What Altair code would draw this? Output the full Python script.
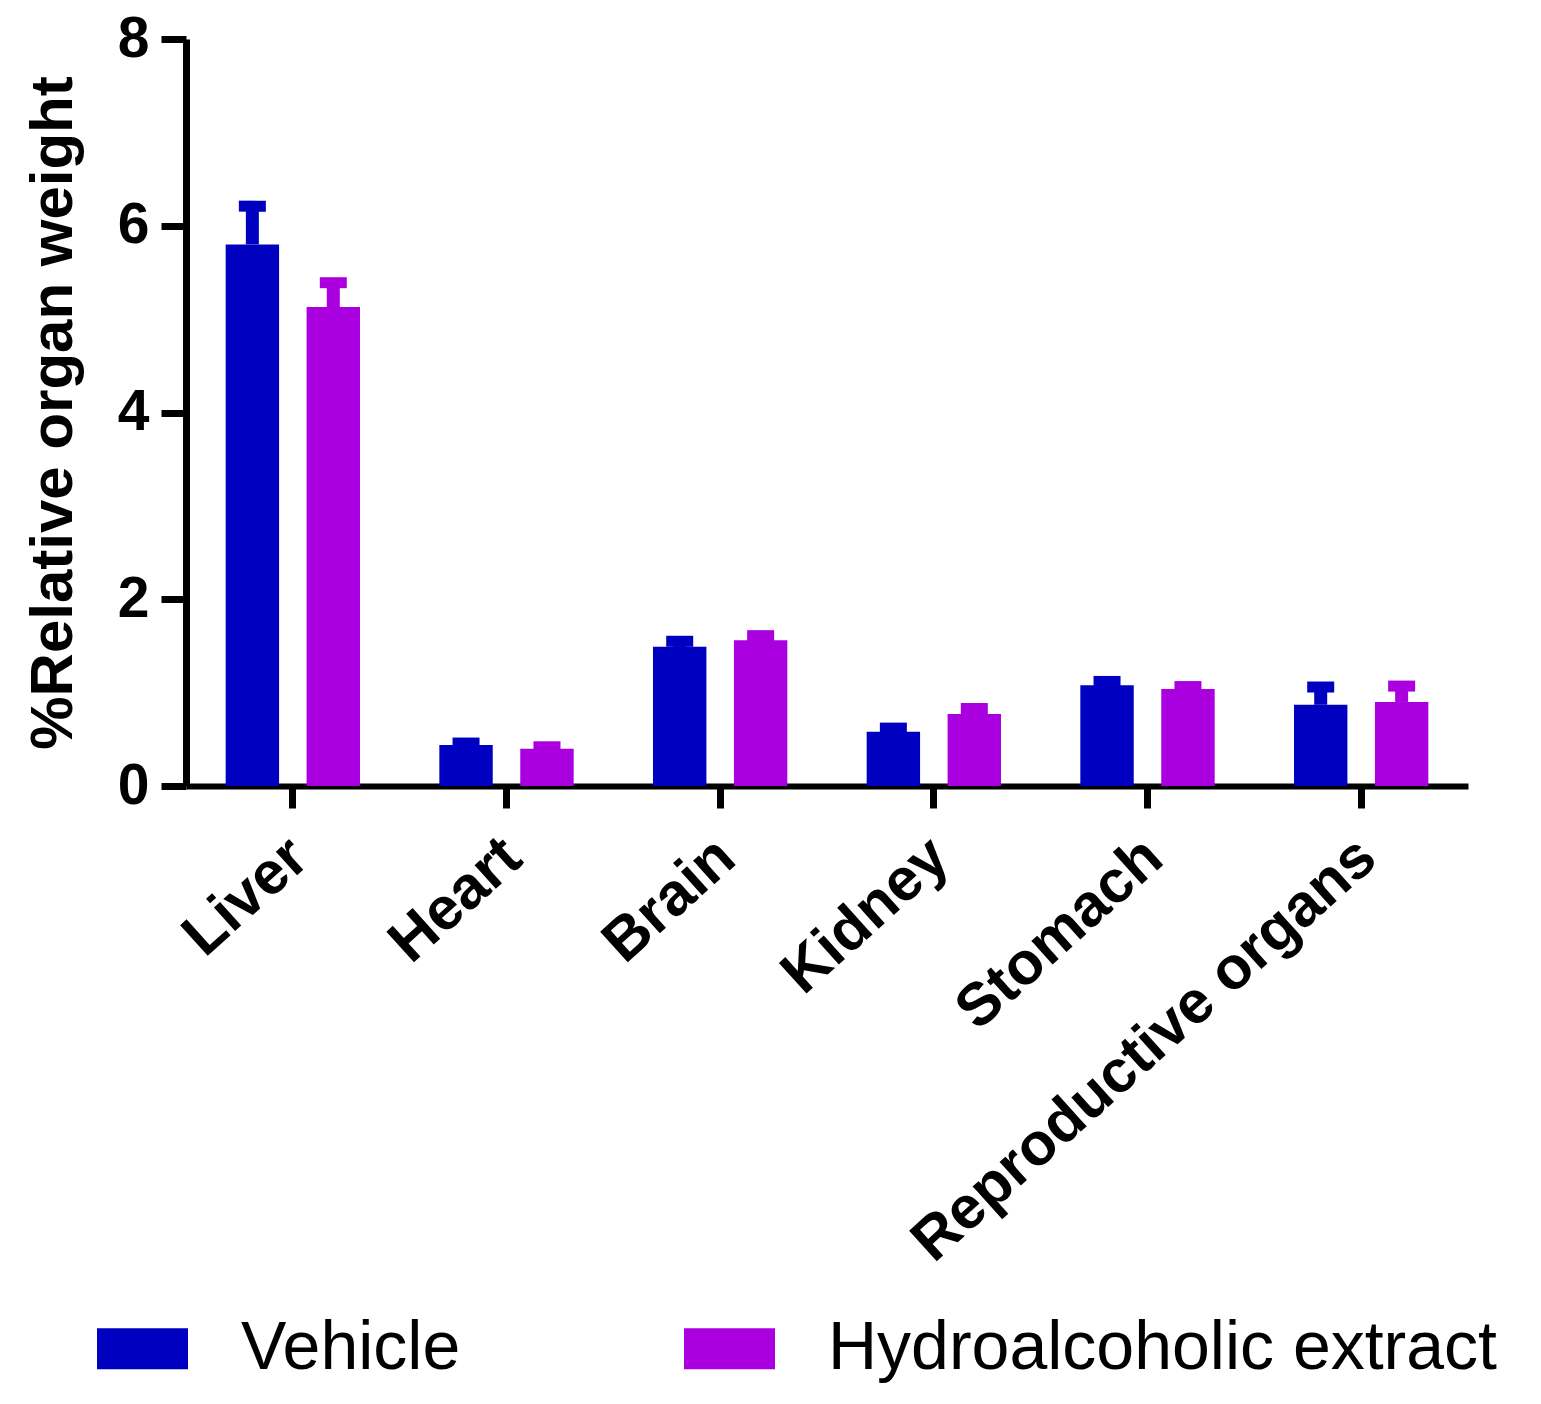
import altair as alt
import pandas as pd

organs = ["Liver", "Heart", "Brain", "Kidney", "Stomach", "Reproductive organs"]
groups = ["Vehicle", "Hydroalcoholic extract"]
vehicle_mean = [5.80, 0.44, 1.49, 0.58, 1.08, 0.87]
vehicle_err = [0.41, 0.02, 0.06, 0.04, 0.04, 0.19]
hydro_mean = [5.13, 0.40, 1.56, 0.77, 1.04, 0.90]
hydro_err = [0.26, 0.02, 0.05, 0.06, 0.025, 0.17]
colors = ["#0000C0", "#AA00E0"]

rows = []
for o, m, e in zip(organs, vehicle_mean, vehicle_err):
    rows.append({"organ": o, "group": groups[0], "mean": m, "top": m + e})
for o, m, e in zip(organs, hydro_mean, hydro_err):
    rows.append({"organ": o, "group": groups[1], "mean": m, "top": m + e})
df = pd.DataFrame(rows)

FONT = "Liberation Sans"

x = alt.X("organ:N", sort=organs,
          scale=alt.Scale(paddingInner=0, paddingOuter=0),
          axis=alt.Axis(title=None, labelAngle=-42, labelFont=FONT, labelFontSize=60,
                        labelFontWeight="bold", labelColor="black", labelPadding=19,
                        labelOffset=-13, labelAlign="right", labelBaseline="top",
                        tickSize=22, tickWidth=7, tickColor="black",
                        domainWidth=6, domainColor="black", labelLimit=1000))
xo = alt.XOffset("group:N", sort=groups,
                 scale=alt.Scale(domain=groups, paddingInner=0.34, paddingOuter=0.49))
y = alt.Y("mean:Q", scale=alt.Scale(domain=[0, 8], nice=False),
          axis=alt.Axis(title="%Relative organ weight", values=[0, 2, 4, 6, 8], format="d",
                        titleFont=FONT, titleFontSize=60, titleFontWeight="bold",
                        titleColor="black", titlePadding=33,
                        labelFont=FONT, labelFontSize=57, labelFontWeight="bold",
                        labelColor="black", labelPadding=12,
                        tickSize=25, tickWidth=7, tickColor="black",
                        domainWidth=7, domainColor="black", grid=False))
color_scale = alt.Scale(domain=groups, range=colors)

bars = alt.Chart(df).mark_bar().encode(
    x=x, xOffset=xo, y=y,
    color=alt.Color("group:N", scale=color_scale, sort=groups,
                    legend=alt.Legend(title=None, orient="none", direction="horizontal",
                                      legendX=-89, legendY=1264,
                                      symbolType="M-1,-0.45H1V0.45H-1Z", symbolSize=8281,
                                      symbolStrokeWidth=0, symbolOpacity=1,
                                      labelFont=FONT, labelFontSize=68, labelColor="black",
                                      labelOffset=53, columnPadding=223, padding=0,
                                      labelLimit=2000))
)

stems = alt.Chart(df).mark_rule(strokeWidth=13).encode(
    x=x, xOffset=xo, y=alt.Y("mean:Q"), y2="top:Q",
    color=alt.Color("group:N", scale=color_scale, legend=None)
)

caps = alt.Chart(df).mark_tick(size=27, thickness=11, opacity=1).encode(
    x=x, xOffset=xo, y=alt.Y("top:Q"),
    color=alt.Color("group:N", scale=color_scale, legend=None)
)

chart = alt.layer(bars, stems, caps).properties(
    width=1282, height=747,
    autosize=alt.AutoSizeParams(type="none"),
    padding={"left": 178, "top": 31, "right": 60, "bottom": 608},
).configure(background="white").configure_view(stroke=None, strokeWidth=0)

chart.save("out.html", embed_options={"renderer": "svg", "actions": False})
